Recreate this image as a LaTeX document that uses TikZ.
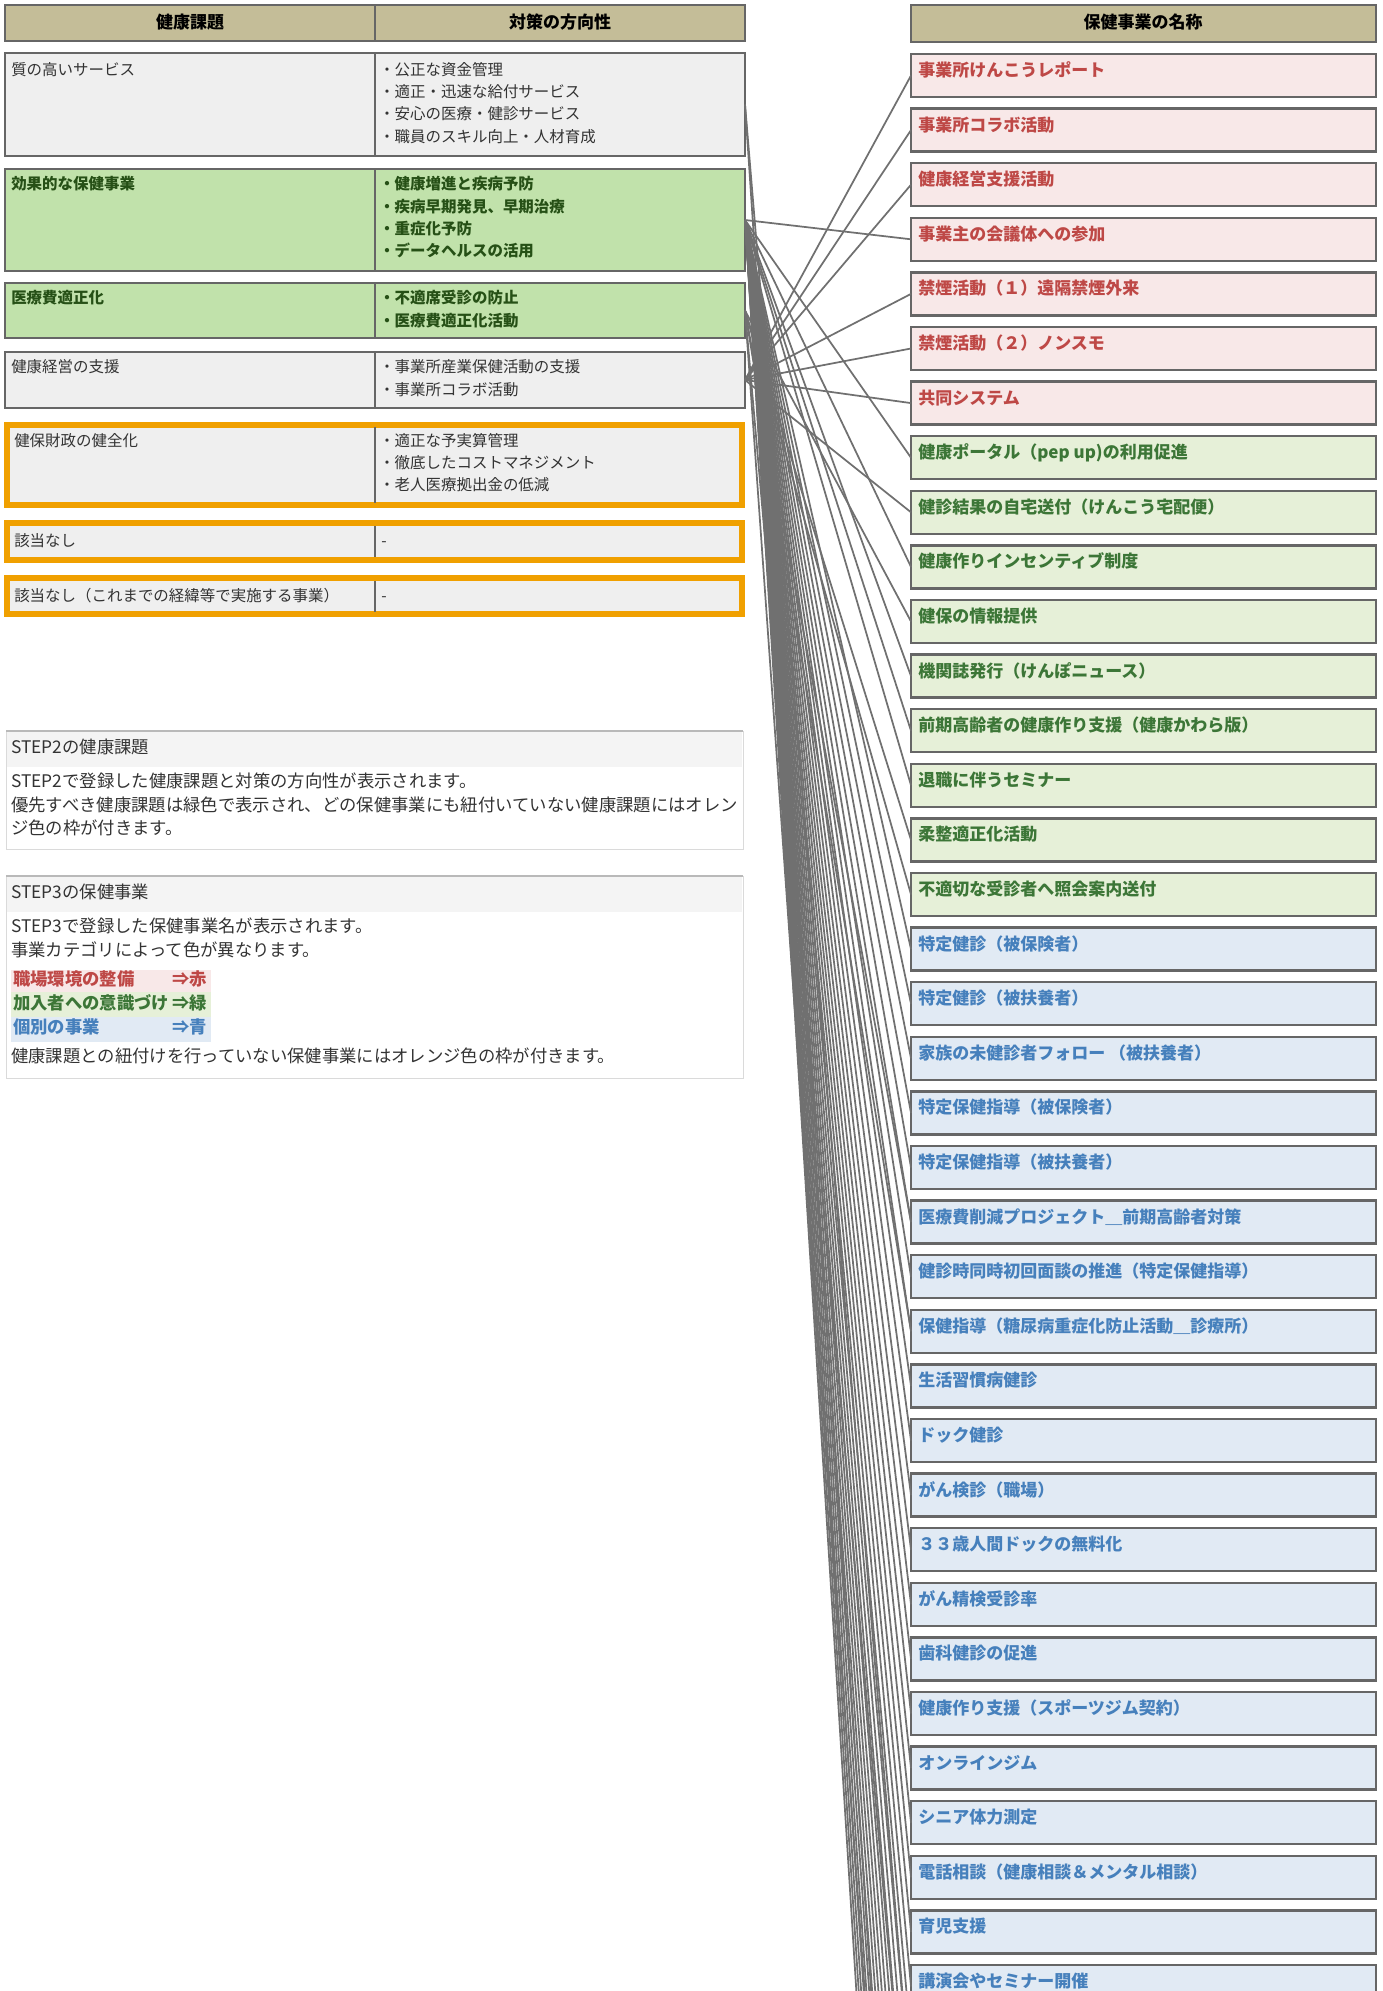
\documentclass[tikz,border=0pt]{standalone}
\usepackage{fontspec}
\setmainfont{Noto Sans CJK JP}
\definecolor{bordergray}{RGB}{102,102,102}
\definecolor{hdrtan}{RGB}{196,189,152}
\definecolor{rowgray}{RGB}{239,239,239}
\definecolor{rowgreen}{RGB}{193,226,171}
\definecolor{greentxt}{RGB}{38,80,22}
\definecolor{orangeb}{RGB}{240,160,0}
\definecolor{txtgray}{RGB}{51,51,51}
\definecolor{rbg}{RGB}{248,232,232}
\definecolor{gbg}{RGB}{230,240,216}
\definecolor{bbg}{RGB}{225,234,244}
\definecolor{rtx}{RGB}{190,72,70}
\definecolor{gtx}{RGB}{60,118,55}
\definecolor{btx}{RGB}{70,128,188}
\definecolor{linegray}{RGB}{112,112,112}
\definecolor{panelb}{RGB}{218,218,218}
\definecolor{paneltop}{RGB}{185,185,185}
\definecolor{panelhead}{RGB}{244,244,244}
\begin{document}
\begin{tikzpicture}[x=0.75pt,y=-0.75pt,
  cell/.style={rectangle, draw=bordergray, line width=1.9pt, inner sep=0pt, outer sep=0pt, anchor=north west},
  obox/.style={rectangle, draw=orangeb, line width=4.5pt, fill=rowgray, inner sep=0pt, outer sep=0pt, anchor=north west},
  panel/.style={rectangle, draw=panelb, line width=0.75pt, fill=white, inner sep=0pt, outer sep=0pt, anchor=north west, minimum width=552.75pt},
  txt/.style={anchor=west, inner sep=0pt, text height=0.88em, text depth=0.12em},
  lt/.style={txt, font=\fontsize{11.6pt}{14pt}\selectfont, text=txtgray},
  ltg/.style={txt, font=\fontsize{11.6pt}{14pt}\selectfont\bfseries, text=greentxt},
  ht/.style={anchor=center, inner sep=0pt, font=\fontsize{12.75pt}{15pt}\selectfont\bfseries, text=black, text height=0.88em, text depth=0.12em},
  ptx/.style={txt, font=\fontsize{13pt}{16pt}\selectfont, text=txtgray},
  legtx/.style={txt, font=\fontsize{13pt}{16pt}\selectfont\bfseries},
  boxtx/.style={txt, font=\fontsize{12.75pt}{15pt}\selectfont\bfseries},
  link/.style={draw=linegray, line width=1.3pt},
  divider/.style={draw=bordergray, line width=1.5pt},
]
\useasboundingbox (0,0) rectangle (1382,1991);
\clip (0,0) rectangle (1382,1991);
\fill[white] (0,0) rectangle (1382,1991);

% ---------- left header ----------
\node[cell, fill=hdrtan, minimum width=555pt, minimum height=27pt] (hL) at (5,5) {};
\draw[divider] (375,5) -- (375,41);
\node[ht] (hL1) at (190,23) {健康課題};
\node[ht] (hL2) at (560,23) {対策の方向性};

% ---------- right header ----------
\node[cell, fill=hdrtan, minimum width=348.75pt, minimum height=27.75pt] (hR) at (911,5) {};
\node[ht] (hR1) at (1143,23) {保健事業の名称};

% ---------- left rows ----------
\node[cell, fill=rowgray, minimum width=555pt, minimum height=77.25pt] (r1) at (5,53) {};
\draw[divider] (375,53) -- (375,156);
\node[lt] (r1a) at (11,70) {質の高いサービス};
\node[lt] (r1b) at (379,70) {・公正な資金管理};
\node[lt] (r1c) at (379,92) {・適正・迅速な給付サービス};
\node[lt] (r1d) at (379,114) {・安心の医療・健診サービス};
\node[lt] (r1e) at (379,137) {・職員のスキル向上・人材育成};

\node[cell, fill=rowgreen, minimum width=555pt, minimum height=76.5pt] (r2) at (5,169) {};
\draw[divider] (375,169) -- (375,271);
\node[ltg] (r2a) at (11,184) {効果的な保健事業};
\node[ltg] (r2b) at (379,184) {・健康増進と疾病予防};
\node[ltg] (r2c) at (379,207) {・疾病早期発見、早期治療};
\node[ltg] (r2d) at (379,229) {・重症化予防};
\node[ltg] (r2e) at (379,251) {・データヘルスの活用};

\node[cell, fill=rowgreen, minimum width=555pt, minimum height=41.25pt] (r3) at (5,283) {};
\draw[divider] (375,283) -- (375,338);
\node[ltg] (r3a) at (11,298) {医療費適正化};
\node[ltg] (r3b) at (379,298) {・不適席受診の防止};
\node[ltg] (r3c) at (379,321) {・医療費適正化活動};

\node[cell, fill=rowgray, minimum width=555pt, minimum height=42pt] (r4) at (5,352) {};
\draw[divider] (375,352) -- (375,408);
\node[lt] (r4a) at (11,367) {健康経営の支援};
\node[lt] (r4b) at (379,367) {・事業所産業保健活動の支援};
\node[lt] (r4c) at (379,390) {・事業所コラボ活動};

\node[obox, minimum width=551.25pt, minimum height=60pt] (r5) at (7,425) {};
\draw[divider] (375,427) -- (375,503);
\node[lt] (r5a) at (14,441) {健保財政の健全化};
\node[lt] (r5b) at (379,441) {・適正な予実算管理};
\node[lt] (r5c) at (379,463) {・徹底したコストマネジメント};
\node[lt] (r5d) at (379,485) {・老人医療拠出金の低減};

\node[obox, minimum width=551.25pt, minimum height=27.75pt] (r6) at (7,523) {};
\draw[divider] (375,526) -- (375,557);
\node[lt] (r6a) at (14,541) {該当なし};
\node[lt] (r6b) at (381,541) {-};

\node[obox, minimum width=551.25pt, minimum height=27pt] (r7) at (7,578) {};
\draw[divider] (375,581) -- (375,612);
\node[lt] (r7a) at (14,596) {該当なし（これまでの経緯等で実施する事業）};
\node[lt] (r7b) at (381,596) {-};

% ---------- STEP2 panel ----------
\node[panel, minimum height=88.5pt] (p2) at (6,731) {};
\fill[panelhead] (7,732) rectangle (742,767);
\draw[paneltop, line width=1.5pt] (6,731) -- (743,731);
\node[ptx] (p2h) at (11,748) {STEP2の健康課題};
\node[ptx] (p2a) at (11,782) {STEP2で登録した健康課題と対策の方向性が表示されます。};
\node[ptx] (p2b) at (11,806) {優先すべき健康課題は緑色で表示され、どの保健事業にも紐付いていない健康課題にはオレン};
\node[ptx] (p2c) at (11,829) {ジ色の枠が付きます。};

% ---------- STEP3 panel ----------
\node[panel, minimum height=151.5pt] (p3) at (6,876) {};
\fill[panelhead] (7,877) rectangle (742,912);
\draw[paneltop, line width=1.5pt] (6,876) -- (743,876);
\node[ptx] (p3h) at (11,893) {STEP3の保健事業};
\node[ptx] (p3a) at (11,927) {STEP3で登録した保健事業名が表示されます。};
\node[ptx] (p3b) at (11,951) {事業カテゴリによって色が異なります。};
\fill[rbg] (11,970) rectangle (211,992);
\fill[gbg] (11,992) rectangle (211,1017);
\fill[bbg] (11,1017) rectangle (211,1042);
\node[legtx, text=rtx] (lg1) at (13,980) {職場環境の整備};
\node[legtx, text=rtx] (lg1b) at (172,980) {⇒赤};
\node[legtx, text=gtx] (lg2) at (13,1004) {加入者への意識づけ};
\node[legtx, text=gtx] (lg2b) at (172,1004) {⇒緑};
\node[legtx, text=btx] (lg3) at (13,1028) {個別の事業};
\node[legtx, text=btx] (lg3b) at (172,1028) {⇒青};
\node[ptx] (p3c) at (11,1057) {健康課題との紐付けを行っていない保健事業にはオレンジ色の枠が付きます。};

% ---------- right boxes ----------
\foreach \t/\cat [count=\k] in {
  事業所けんこうレポート/r,
  事業所コラボ活動/r,
  健康経営支援活動/r,
  事業主の会議体への参加/r,
  禁煙活動（１）遠隔禁煙外来/r,
  禁煙活動（２）ノンスモ/r,
  共同システム/r,
  健康ポータル（pep up)の利用促進/g,
  健診結果の自宅送付（けんこう宅配便）/g,
  健康作りインセンティブ制度/g,
  健保の情報提供/g,
  機関誌発行（けんぽニュース）/g,
  前期高齢者の健康作り支援（健康かわら版）/g,
  退職に伴うセミナー/g,
  柔整適正化活動/g,
  不適切な受診者へ照会案内送付/g,
  特定健診（被保険者）/b,
  特定健診（被扶養者）/b,
  家族の未健診者フォロー （被扶養者）/b,
  特定保健指導（被保険者）/b,
  特定保健指導（被扶養者）/b,
  医療費削減プロジェクト＿前期高齢者対策/b,
  健診時同時初回面談の推進（特定保健指導）/b,
  保健指導（糖尿病重症化防止活動＿診療所）/b,
  生活習慣病健診/b,
  ドック健診/b,
  がん検診（職場）/b,
  ３３歳人間ドックの無料化/b,
  がん精検受診率/b,
  歯科健診の促進/b,
  健康作り支援（スポーツジム契約）/b,
  オンラインジム/b,
  シニア体力測定/b,
  電話相談（健康相談＆メンタル相談）/b,
  育児支援/b,
  講演会やセミナー開催/b}{
  \pgfmathsetmacro\yy{54+(\k-1)*54.6}
  \node[cell, fill=\cat bg, minimum width=348.75pt, minimum height=32.25pt] (b\k) at (911,\yy) {};
  \node[boxtx, text=\cat tx] (bt\k) at (918,\yy+17.5) {\t};
}
% ends of connectors that continue below the visible area
\foreach \k in {37,...,52}{
  \pgfmathsetmacro\yy{75.5+(\k-1)*54.6}
  \coordinate (b\k) at (911,\yy);
}

% ---------- connectors ----------
\foreach \k in {1,2,3,5,6,7,9} \draw[link] (r4.east) -- (b\k.west);
\foreach \k in {4,8,10,12,13,14,17,18,...,36} \draw[link] (r2.east) -- (b\k.west);
\foreach \k in {37,...,52} \draw[link] (r2.east) -- (b\k);
\foreach \k in {11,15,16,22,24} \draw[link] (r3.east) -- (b\k.west);
\foreach \k in {40,48} \draw[link] (r3.east) -- (b\k);
\foreach \k in {38,47} \draw[link] (r1.east) -- (b\k);
\end{tikzpicture}
\end{document}
